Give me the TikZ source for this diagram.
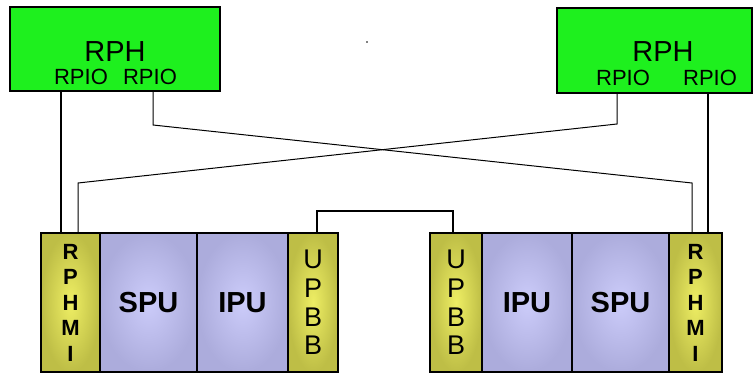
\documentclass[tikz,border=0pt]{standalone}
\usepackage{fontspec}
\setmainfont{Liberation Sans}
\usetikzlibrary{calc}
\definecolor{rphgreen}{RGB}{30,240,30}
\definecolor{yelout}{RGB}{190,190,70}
\definecolor{yelin}{RGB}{238,238,100}
\definecolor{bluout}{RGB}{172,172,220}
\definecolor{bluin}{RGB}{204,204,250}
\tikzset{
  box/.style={draw=black, line width=2pt, inner sep=0pt, outer sep=0pt, anchor=north west},
  rphbox/.style={box, fill=rphgreen},
  ybox/.style={box, shade, inner color=yelin, outer color=yelout, minimum height=139pt, align=center},
  bbox/.style={box, shade, inner color=bluin, outer color=bluout, minimum height=139pt},
  big/.style={font=\fontsize{29}{31}\selectfont},
  rpio/.style={font=\fontsize{22}{24}\selectfont},
  unit/.style={font=\bfseries\fontsize{29}{31}\selectfont},
  rphmi/.style={font=\bfseries\fontsize{22}{25.5}\selectfont},
  upbb/.style={font=\fontsize{27}{28.7}\selectfont},
  wire/.style={line width=1.5pt},
  thinwire/.style={line width=1pt},
}
\begin{document}
\begin{tikzpicture}[x=1pt,y=-1pt]
\useasboundingbox (0,0) rectangle (754,374);
% RPH boxes
\node[rphbox, minimum width=210pt, minimum height=84pt] (rphL) at (10,7) {};
\node[rphbox, minimum width=195pt, minimum height=85pt] (rphR) at (557,8) {};
\node[big] (rphLt) at (115,52) {RPH};
\node[big] (rphRt) at (663,52) {RPH};
\node[rpio] (rpioL1) at (81,77) {RPIO};
\node[rpio] (rpioL2) at (150,77) {RPIO};
\node[rpio] (rpioR1) at (623,78) {RPIO};
\node[rpio] (rpioR2) at (710,78) {RPIO};
% bottom left module
\node[ybox, minimum width=59pt, rphmi] (rphmiL) at (41,233) {R\\P\\H\\M\\I};
\node[bbox, minimum width=97pt] (spuL) at (100,233) {};
\node[bbox, minimum width=91pt] (ipuL) at (197,233) {};
\node[ybox, minimum width=50pt, upbb] (upbbL) at (288,233) {U\\P\\B\\B};
\node[unit] at (spuL.center) {SPU};
\node[unit] at (ipuL.center) {IPU};
% bottom right module
\node[ybox, minimum width=52pt, upbb] (upbbR) at (430,233) {U\\P\\B\\B};
\node[bbox, minimum width=90pt] (ipuR) at (482,233) {};
\node[bbox, minimum width=97pt] (spuR) at (572,233) {};
\node[ybox, minimum width=53pt, rphmi] (rphmiR) at (669,233) {R\\P\\H\\M\\I};
\node[unit] at (ipuR.center) {IPU};
\node[unit] at (spuR.center) {SPU};
% port coordinates
\coordinate (xa) at (61,0);
\coordinate (xb) at (153,0);
\coordinate (xc) at (617,0);
\coordinate (xd) at (708,0);
\coordinate (xe) at (78,0);
\coordinate (xf) at (692,0);
\coordinate (xg) at (317,0);
\coordinate (xh) at (453,0);
\coordinate (bendB) at (153,125);
\coordinate (bendC) at (617,124);
\coordinate (bendF) at (692,183);
\coordinate (bendE) at (78,183);
% connectors
\draw[wire] (rphL.south -| xa) -- (rphmiL.north -| xa);
\draw[wire] (rphR.south -| xd) -- (rphmiR.north -| xd);
\draw[thinwire] (rphL.south -| xb) -- (bendB) -- (bendF) -- (rphmiR.north -| xf);
\draw[thinwire] (rphR.south -| xc) -- (bendC) -- (bendE) -- (rphmiL.north -| xe);
\draw[line width=2pt] (upbbL.north -| xg) -- ++(0,-22) -| (upbbR.north -| xh);
% speck
\fill (367,42) circle (0.9pt);
\end{tikzpicture}
\end{document}
